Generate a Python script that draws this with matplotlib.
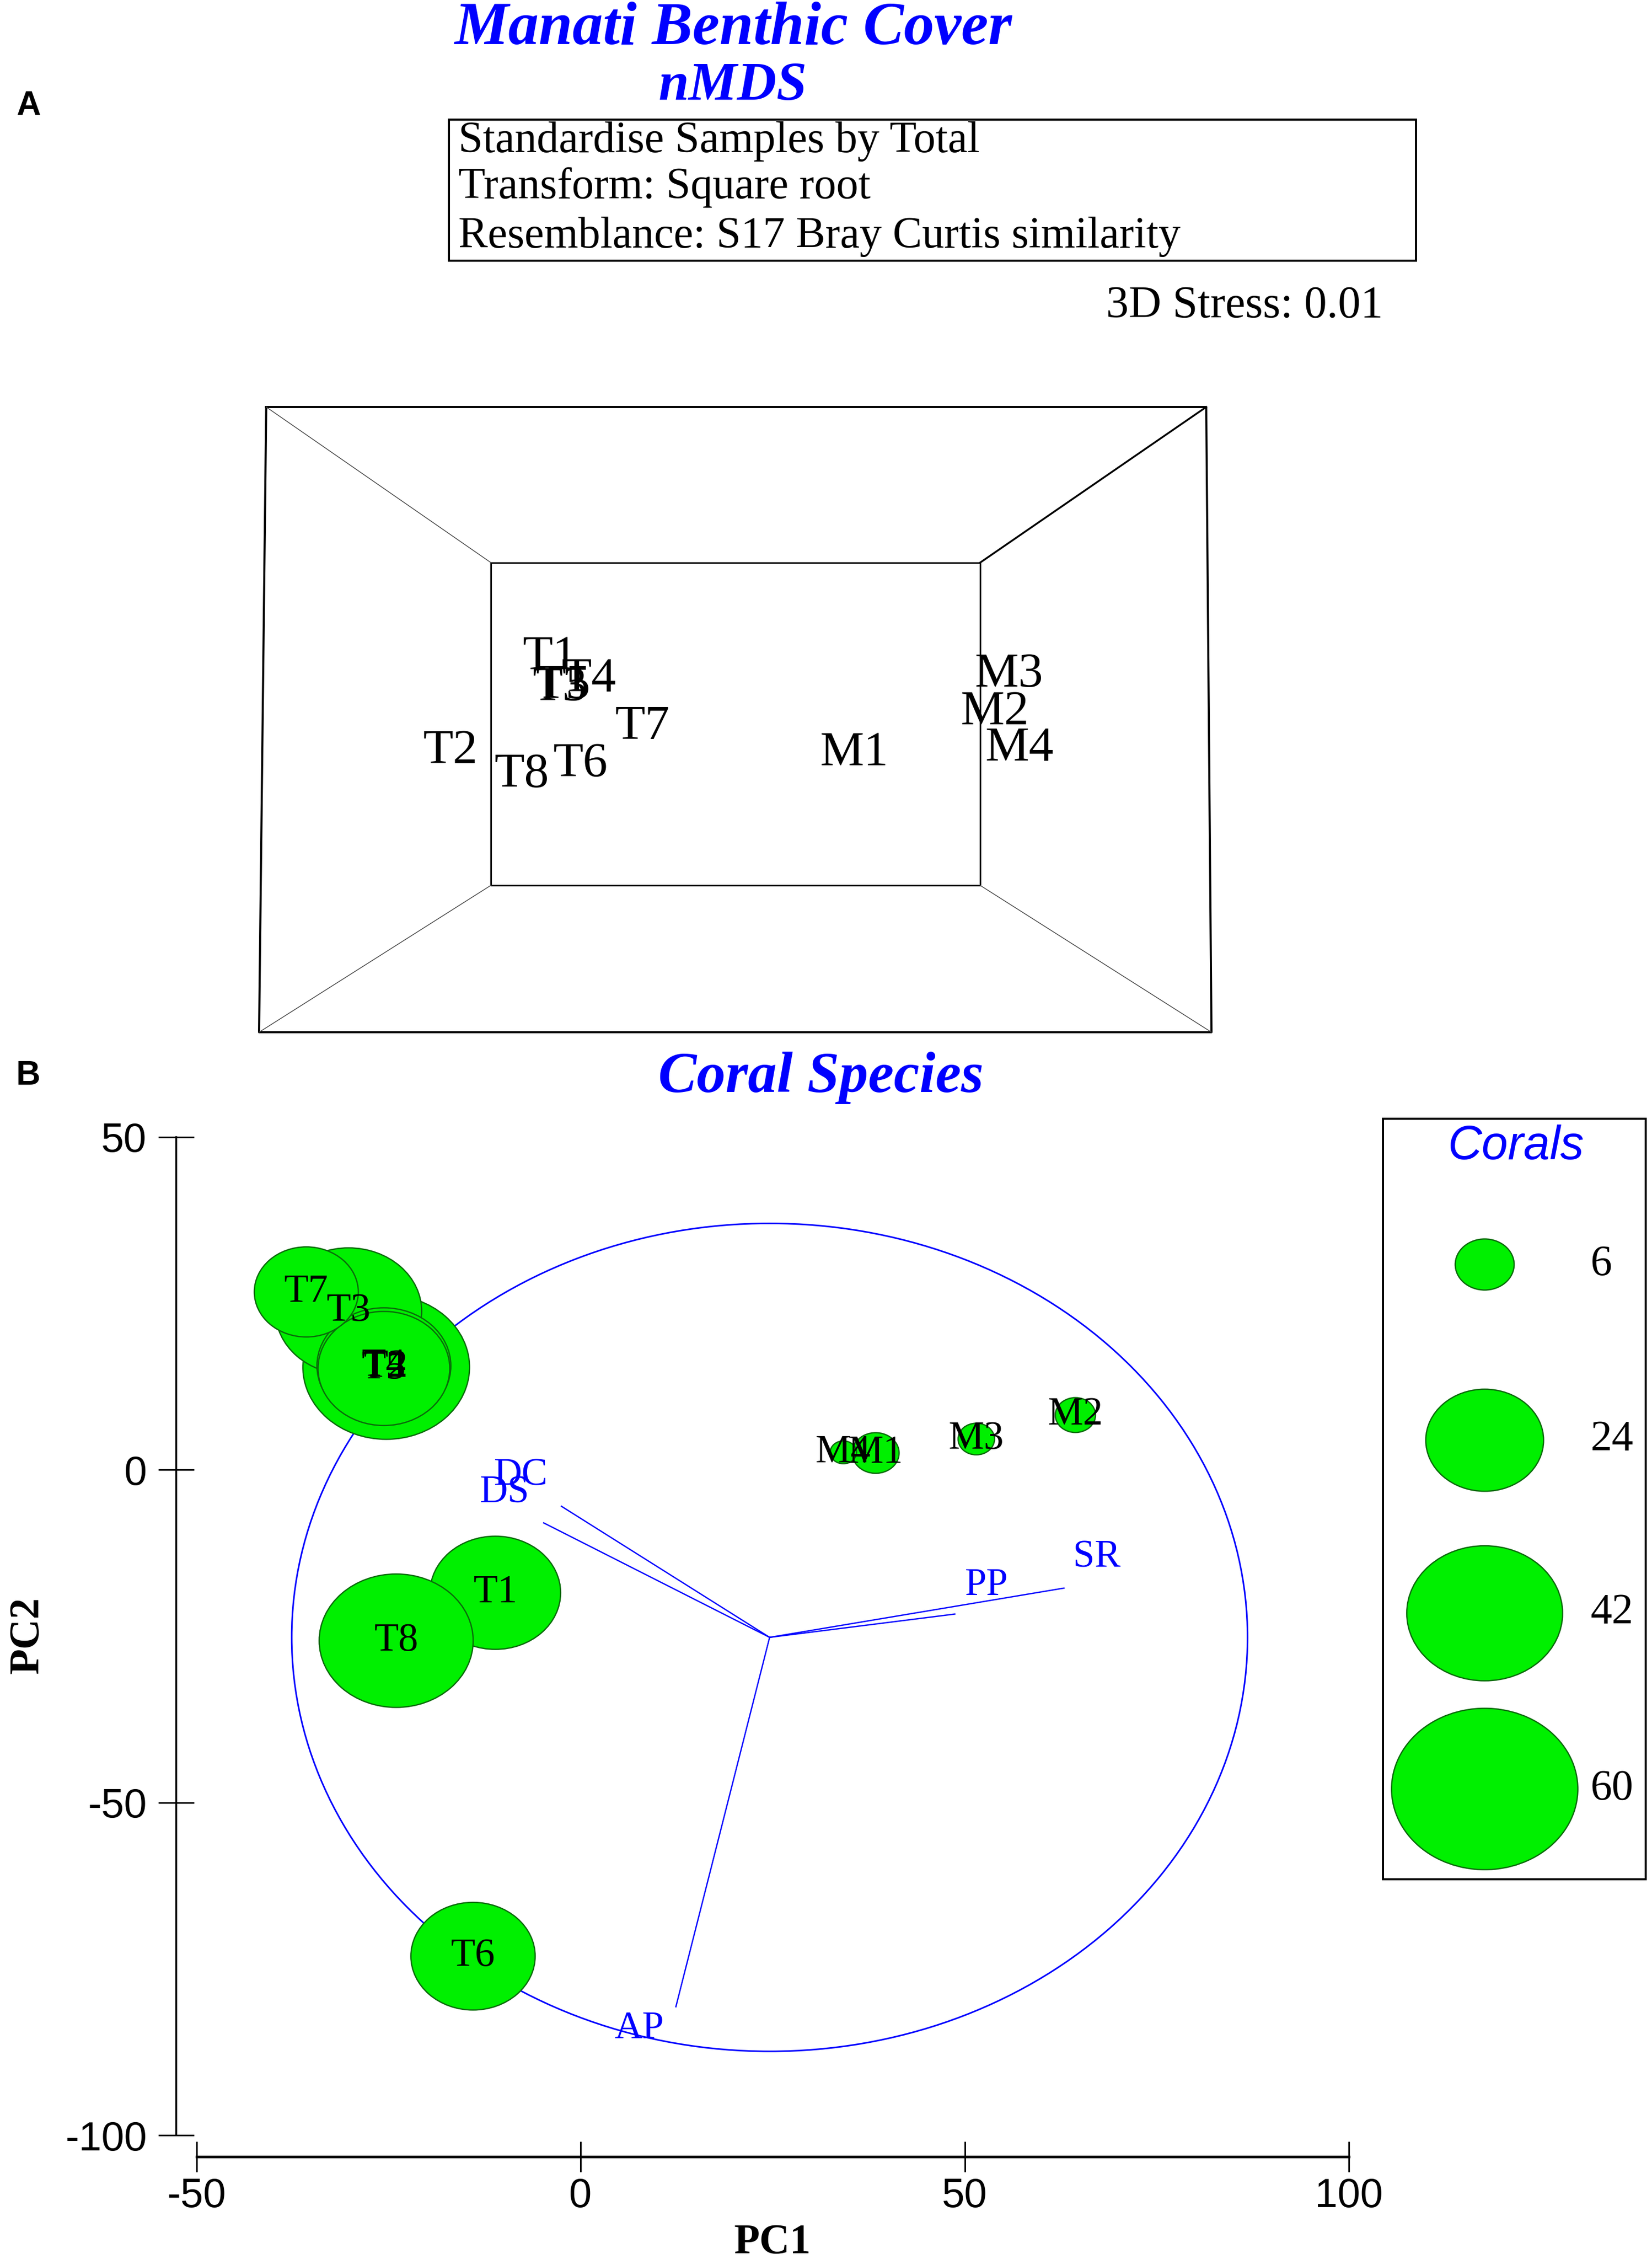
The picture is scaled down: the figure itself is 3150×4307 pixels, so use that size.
import matplotlib
matplotlib.use('Agg')
import matplotlib.pyplot as plt
from matplotlib.patches import Circle, Rectangle
import numpy as np

plt.rcParams['font.family'] = 'Liberation Sans'
plt.rcParams['axes.unicode_minus'] = False

W, H = 3150, 4307
BLUE = '#0000FF'
GREEN = '#00F000'
DKGREEN = '#0B6B0B'
SERIF = 'Liberation Serif'

# ---- panel A: nMDS sample labels (projected 3D ordination) ----
mds_labels = ['T1', 'T2', 'T3', 'T4', 'T5', 'T6', 'T7', 'T8', 'M1', 'M2', 'M3', 'M4']
mds_x = [-0.389, -0.599, -0.368, -0.308, -0.362, -0.326, -0.195, -0.449, 0.250, 0.545, 0.574, 0.596]
mds_y = [0.198, -0.102, 0.099, 0.129, 0.106, -0.143, -0.025, -0.178, -0.109, 0.022, 0.143, -0.092]
box_lines = ['Standardise Samples by Total',
             'Transform: Square root',
             'Resemblance: S17 Bray Curtis similarity']
stress = 0.01

# ---- panel B: PCA bubble plot ----
pc_labels = ['T1', 'T2', 'T3', 'T4', 'T5', 'T6', 'T7', 'T8', 'M1', 'M2', 'M3', 'M4']
pc1 = [-11.1, -25.3, -30.2, -25.6, -25.6, -14.0, -35.7, -24.0, 38.4, 64.4, 51.5, 34.2]
pc2 = [-18.5, 15.4, 23.8, 15.6, 15.2, -73.1, 26.7, -25.7, 2.5, 8.2, 4.6, 2.6]
corals = [29.5, 48, 37, 31, 30, 26.7, 18.7, 41, 3.8, 2.8, 2.3, 1.2]

vec_names = ['DC', 'DS', 'PP', 'SR', 'AP']
vec_x = [-2.5, -4.8, 48.7, 62.9, 12.4]
vec_y = [-5.5, -8.0, -21.7, -17.8, -80.7]
vec_lab_x = [-7.8, -9.9, 52.8, 67.2, 7.6]
vec_lab_y = [-0.9, -3.5, -17.4, -13.2, -84.0]
vec_origin = (24.6, -25.2)
circle_r = 62.2

legend_vals = [6, 24, 42, 60]
bubble_k = 1.565  # radius (data units) per sqrt(value)


def ftext(x, y, s, **kw):
    return fig.text(x / W, 1 - y / H, s, **kw)


def frac(left, top, right, bottom):
    return [left / W, 1 - bottom / H, (right - left) / W, (bottom - top) / H]


fig = plt.figure(figsize=(W / 72, H / 72), dpi=72)

# titles
ftext(1398, 84, 'Manati Benthic Cover', ha='center', va='baseline', color=BLUE,
      family=SERIF, weight='bold', style='italic', fontsize=116)
ftext(1398, 190, 'nMDS', ha='center', va='baseline', color=BLUE,
      family=SERIF, weight='bold', style='italic', fontsize=104)
ftext(31, 219, 'A', ha='left', va='baseline', weight='bold', fontsize=64)
ftext(31, 2068, 'B', ha='left', va='baseline', weight='bold', fontsize=64)

# info box
fig.patches.append(Rectangle((856 / W, 1 - 497 / H), (2700 - 856) / W, (497 - 228) / H,
                             transform=fig.transFigure, fill=False, ec='black', lw=4))
for txt, yb in zip(box_lines, [290, 378, 472]):
    ftext(874, yb, txt, ha='left', va='baseline', family=SERIF, fontsize=84)
ftext(2637, 605, '3D Stress: %.2f' % stress, ha='right', va='baseline', family=SERIF, fontsize=86)

# panel A 3D frame
axa = fig.add_axes(frac(494, 776, 2310, 1968))
axa.set_xlim(-1, 1)
axa.set_ylim(-1, 1)
axa.axis('off')
outer = np.array([[-0.985, 1.0], [0.989, 1.0], [1.0, -1.0], [-1.0, -1.0]])
inner = np.array([[-0.513, 0.502], [0.514, 0.502], [0.514, -0.530], [-0.513, -0.530]])
oc = np.vstack([outer, outer[:1]])
ic = np.vstack([inner, inner[:1]])
axa.plot(oc[:, 0], oc[:, 1], color='black', lw=4, clip_on=False)
axa.plot(ic[:, 0], ic[:, 1], color='black', lw=3, clip_on=False)
for k in range(4):
    lw = 3.5 if k == 1 else 1.5
    col = 'black' if k == 1 else '#444444'
    axa.plot([outer[k, 0], inner[k, 0]], [outer[k, 1], inner[k, 1]], color=col, lw=lw, clip_on=False)
for lab, x, y in zip(mds_labels, mds_x, mds_y):
    axa.text(x, y, lab, ha='center', va='center', family=SERIF, fontsize=94)

# panel B axes
ax = fig.add_axes(frac(336, 2100, 2600, 4112))
ax.set_xlim(-52.63, 101.9)
ax.set_ylim(-103.23, 55.32)
ax.patch.set_alpha(0)
for s in ['top', 'right']:
    ax.spines[s].set_visible(False)
ax.spines['left'].set_bounds(-100, 50)
ax.spines['bottom'].set_bounds(-50, 100)
ax.spines['left'].set_linewidth(3.5)
ax.spines['bottom'].set_linewidth(5)
ax.set_xticks([-50, 0, 50, 100])
ax.set_yticks([-100, -50, 0, 50])
ax.tick_params(axis='x', direction='inout', length=58, width=3, labelsize=78, pad=10)
ax.tick_params(axis='y', direction='inout', length=68, width=3, labelsize=78, pad=22)

ax.add_patch(Circle(vec_origin, circle_r, fill=False, ec=BLUE, lw=3))
for x, y, v in zip(pc1, pc2, corals):
    ax.add_patch(Circle((x, y), bubble_k * np.sqrt(v), fc=GREEN, ec=DKGREEN, lw=2.5))
for x, y in zip(vec_x, vec_y):
    ax.plot([vec_origin[0], x], [vec_origin[1], y], color=BLUE, lw=2.5)
for lab, x, y in zip(vec_names, vec_lab_x, vec_lab_y):
    ax.text(x, y, lab, ha='center', va='center', color=BLUE, family=SERIF, fontsize=74)
for lab, x, y in zip(pc_labels, pc1, pc2):
    ax.text(x, y, lab, ha='center', va='center', family=SERIF, fontsize=76)

ftext(1565, 2082, 'Coral Species', ha='center', va='baseline', color=BLUE,
      family=SERIF, weight='bold', style='italic', fontsize=110)
ftext(1473, 4296, 'PC1', ha='center', va='baseline', family=SERIF, weight='bold', fontsize=80)
ftext(53, 3118, 'PC2', ha='center', va='center', rotation=90, family=SERIF, weight='bold', fontsize=80)

# legend box
axl = fig.add_axes(frac(2637, 2133, 3138, 3583))
axl.set_xlim(0, 501 / 14.65)
axl.set_ylim(1450 / 12.69, 0)
axl.set_xticks([])
axl.set_yticks([])
for s in axl.spines.values():
    s.set_linewidth(4)
axl.text(17.3, 6.1, 'Corals', ha='center', va='baseline', color=BLUE, style='italic', fontsize=90)
for v, yy in zip(legend_vals, [21.9, 48.3, 74.3, 100.7]):
    axl.add_patch(Circle((13.24, yy), bubble_k * np.sqrt(v), fc=GREEN, ec=DKGREEN, lw=2.5))
    axl.text(27.0, yy, str(v), ha='left', va='center', family=SERIF, fontsize=82)

fig.savefig('out.png', dpi=72, facecolor='white')
